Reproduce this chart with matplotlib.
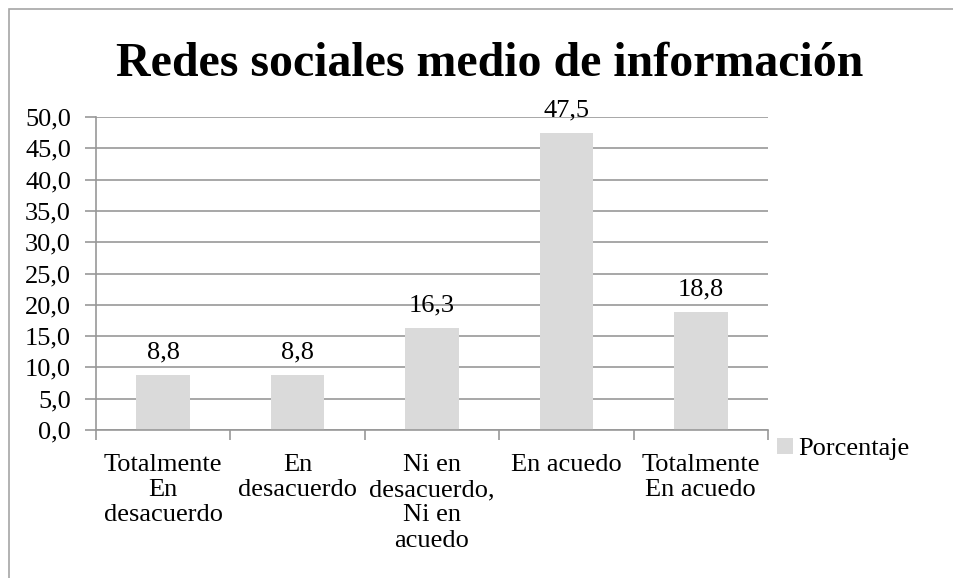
import matplotlib.pyplot as plt
from matplotlib.patches import Rectangle

categorias = ['Totalmente\nEn\ndesacuerdo', 'En\ndesacuerdo',
              'Ni en\ndesacuerdo,\nNi en\nacuedo', 'En acuedo',
              'Totalmente\nEn acuedo']
porcentaje = [8.8, 8.8, 16.3, 47.5, 18.8]
y_ticks = [0, 5, 10, 15, 20, 25, 30, 35, 40, 45, 50]

plt.rcParams['font.family'] = 'Liberation Serif'
fs = 19

fig = plt.figure(figsize=(9.54, 5.78), dpi=100)
ax = fig.add_axes([96 / 954, 1 - 430 / 578, 672 / 954, 313 / 578])

# marco exterior del grafico
fig.patches.append(Rectangle((9 / 954, -0.05), 1.1, 1 - 9 / 578 + 0.05,
                             transform=fig.transFigure, fill=False,
                             edgecolor='#a6a6a6', linewidth=1.2))

x = list(range(len(categorias)))
bars = ax.bar(x, porcentaje, width=0.4, color='#dadada', zorder=2,
              label='Porcentaje')
for xi, v in zip(x, porcentaje):
    ax.annotate(f'{v:.1f}'.replace('.', ','), (xi, v), xytext=(0, 12),
                textcoords='offset points', ha='center', va='baseline',
                fontsize=fs)

ax.set_xlim(-0.5, len(categorias) - 0.5)
ax.set_ylim(0, 50)
ax.set_yticks(y_ticks)
ax.set_yticklabels([f'{t:.1f}'.replace('.', ',') for t in y_ticks], fontsize=fs)
ax.yaxis.grid(True, color='#989898', linewidth=1.2, zorder=0)
ax.tick_params(axis='y', length=8, width=1.2, color='#989898', pad=10)

# ticks entre categorias
ax.set_xticks([i - 0.5 for i in range(len(categorias) + 1)])
ax.set_xticklabels([])
ax.tick_params(axis='x', length=7, width=1.2, color='#989898')
for xi, c in zip(x, categorias):
    ax.annotate(c, (xi, 0), xytext=(0, -17), textcoords='offset points',
                ha='center', va='top', fontsize=fs, linespacing=1.2)

for s in ['top', 'right']:
    ax.spines[s].set_visible(False)
for s in ['left', 'bottom']:
    ax.spines[s].set_color('#989898')
    ax.spines[s].set_linewidth(1.2)

fig.text(0.513, 1 - 64 / 578, 'Redes sociales medio de información',
         ha='center', va='center', fontsize=34.5, fontweight='bold')

fig.legend(handles=[bars], loc='center left',
           bbox_to_anchor=(777 / 954, 1 - 449 / 578),
           frameon=False, fontsize=fs, handlelength=0.6, handleheight=0.6,
           handletextpad=0.2, borderaxespad=0, borderpad=0)

fig.savefig('out.png', dpi=100)
